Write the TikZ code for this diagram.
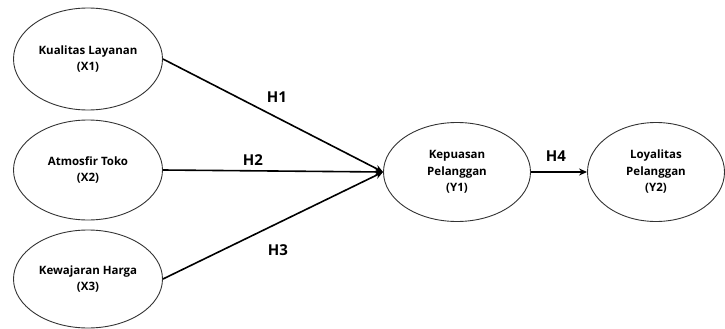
\documentclass[tikz,border=0pt]{standalone}
\usepackage{fontspec}
\setmainfont{Open Sans}
\usetikzlibrary{arrows.meta,shapes.geometric}
\begin{document}
\begin{tikzpicture}[x=1pt,y=-1pt,
  var/.style={ellipse,draw=black!80,line width=0.9pt,inner sep=0pt,align=center,font=\bfseries\fontsize{11.5}{16.5}\selectfont},
  path/.style={line width=1.6pt,-{Stealth[length=8pt,width=7pt]}},
  hyp/.style={font=\bfseries\fontsize{15}{17}\selectfont,inner sep=0pt}]
\useasboundingbox (0,0) rectangle (725,329);
\node[var,minimum width=149pt,minimum height=102pt] (x1) at (88,59) {Kualitas Layanan\\(X1)};
\node[var,minimum width=149pt,minimum height=100pt] (x2) at (88,170) {Atmosfir Toko\\(X2)};
\node[var,minimum width=149pt,minimum height=98pt] (x3) at (88,279) {Kewajaran Harga\\(X3)};
\node[var,minimum width=147pt,minimum height=99pt] (y1) at (457,172) {Kepuasan\\Pelanggan\\(Y1)};
\node[var,minimum width=137pt,minimum height=99pt] (y2) at (656,172) {Loyalitas\\Pelanggan\\(Y2)};
\draw[path] (x1.east) -- (y1.west);
\draw[path] (x2.east) -- (y1.west);
\draw[path] (x3.east) -- (y1.west);
\draw[path] (y1.east) -- (y2.west);
\node[hyp] (h1) at (277,97) {H1};
\node[hyp] (h2) at (253,160) {H2};
\node[hyp] (h3) at (278,250) {H3};
\node[hyp] (h4) at (556,156) {H4};
\end{tikzpicture}
\end{document}
